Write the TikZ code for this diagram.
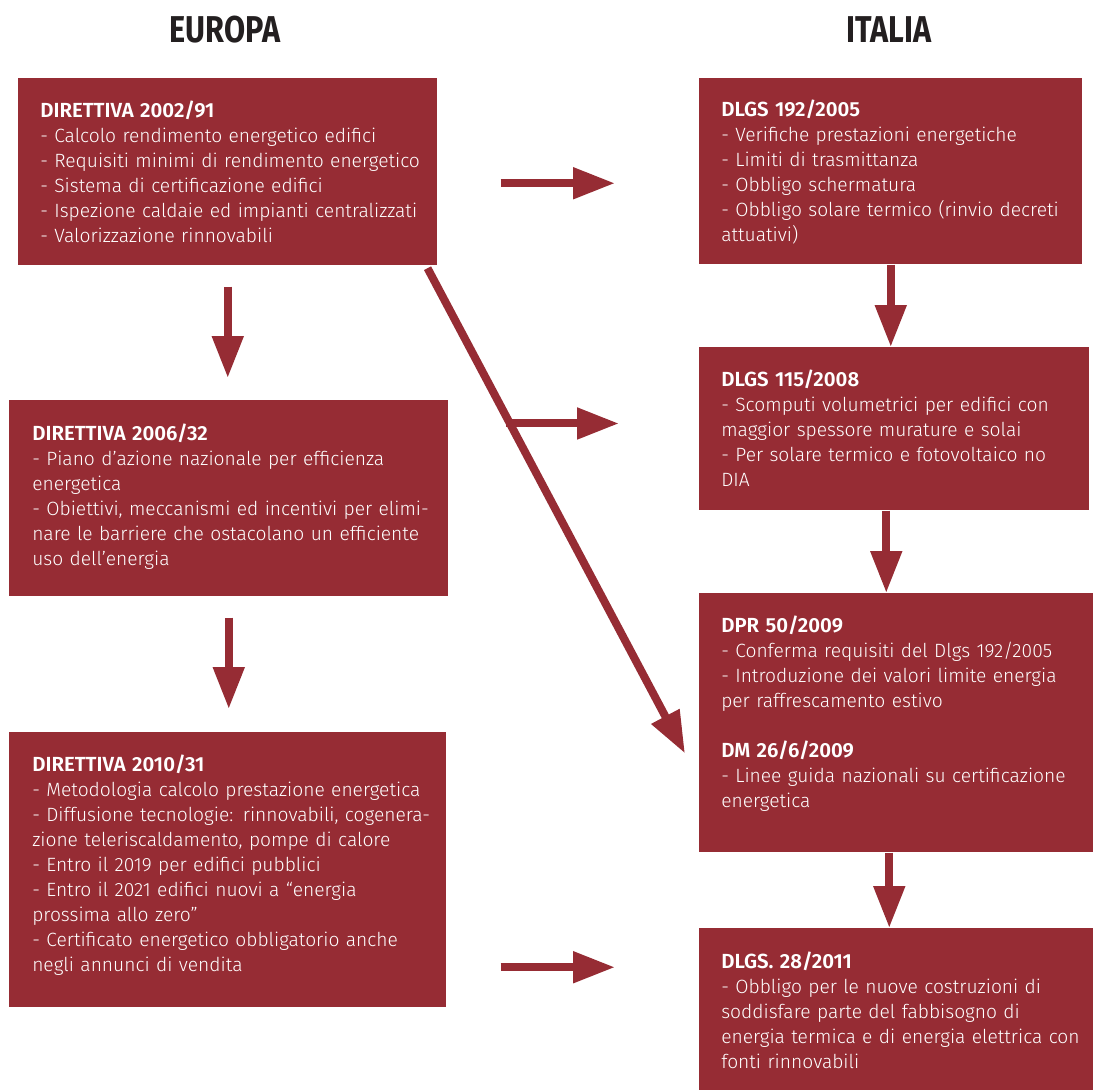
\documentclass[tikz,border=0pt]{standalone}
\usepackage{fontspec}
\setmainfont{Fira Sans}[UprightFont=* Light, BoldFont=* SemiBold]
\newfontfamily\headfont{Fira Sans}[FakeStretch=0.82]
\usetikzlibrary{positioning, arrows.meta}
\definecolor{boxred}{RGB}{150,44,52}
\definecolor{headgray}{RGB}{35,31,32}
\newcommand{\boxtitle}[1]{{\bfseries\fontsize{15.3pt}{18.75pt}\selectfont #1}}

\begin{document}
\begin{tikzpicture}[x=0.75pt, y=-0.75pt, box/.style={rectangle, fill=boxred, inner sep=0pt, anchor=north west}, txt/.style={text=white, inner sep=0pt, anchor=base west, text width=340pt, align=left, font=\fontsize{14.4pt}{18.75pt}\selectfont}, head/.style={text=headgray, font=\headfont\bfseries\fontsize{28pt}{28pt}\selectfont}, arrow/.style={draw=boxred, line width=6pt, -{Triangle[length=31.5pt, width=22.5pt]}}]
        \useasboundingbox (0,0) rectangle (1093,1090);

        \node [head] (europa) at (225,30) {EUROPA};
        \node [head] (italia) at (889,30) {ITALIA};

        % europa
        \node [box, minimum width=314.25pt, minimum height=140.25pt] (dir02) at (18,78) {};
        \node [box, minimum width=329.25pt, minimum height=147pt] (dir06) at (9,400) {};
        \node [box, minimum width=327.75pt, minimum height=206.25pt] (dir10) at (9,732) {};
        \node [txt] (dir02text) at ([shift={(22,39)}]dir02.north west) {\boxtitle{DIRETTIVA 2002/91}\\- Calcolo rendimento energetico edifici\\- Requisiti minimi di rendimento energetico\\- Sistema di certificazione edifici\\- Ispezione caldaie ed impianti centralizzati\\- Valorizzazione rinnovabili};
        \node [txt] (dir06text) at ([shift={(23,40)}]dir06.north west) {\boxtitle{DIRETTIVA 2006/32}\\- Piano d’azione nazionale per efficienza\\energetica\\- Obiettivi, meccanismi ed incentivi per elimi-\\nare le barriere che ostacolano un efficiente\\uso dell’energia};
        \node [txt] (dir10text) at ([shift={(23,39)}]dir10.north west) {\boxtitle{DIRETTIVA 2010/31}\\- Metodologia calcolo prestazione energetica\\- Diffusione tecnologie: rinnovabili, cogenera-\\zione teleriscaldamento, pompe di calore\\- Entro il 2019 per edifici pubblici\\- Entro il 2021 edifici nuovi a “energia\\prossima allo zero”\\- Certificato energetico obbligatorio anche\\negli annunci di vendita};

        % italia
        \node [box, minimum width=287.25pt, minimum height=139.5pt] (dlgs192) at (699,78) {};
        \node [box, minimum width=292.5pt, minimum height=122.25pt] (dlgs115) at (699,347) {};
        \node [box, minimum width=295.5pt, minimum height=194.25pt] (dpr50) at (699,593) {};
        \node [box, minimum width=295.5pt, minimum height=121.5pt] (dlgs28) at (699,928) {};
        \node [txt] (dlgs192text) at ([shift={(22,38)}]dlgs192.north west) {\boxtitle{DLGS 192/2005}\\- Verifiche prestazioni energetiche\\- Limiti di trasmittanza\\- Obbligo schermatura\\- Obbligo solare termico (rinvio decreti\\attuativi)};
        \node [txt] (dlgs115text) at ([shift={(22,39)}]dlgs115.north west) {\boxtitle{DLGS 115/2008}\\- Scomputi volumetrici per edifici con\\maggior spessore murature e solai\\- Per solare termico e fotovoltaico no\\DIA};
        \node [txt] (dpr50text) at ([shift={(22,39)}]dpr50.north west) {\boxtitle{DPR 50/2009}\\- Conferma requisiti del Dlgs 192/2005\\- Introduzione dei valori limite energia\\per raffrescamento estivo\\[18.75pt]\boxtitle{DM 26/6/2009}\\- Linee guida nazionali su certificazione\\energetica};
        \node [txt] (dlgs28text) at ([shift={(22,40)}]dlgs28.north west) {\boxtitle{DLGS. 28/2011}\\- Obbligo per le nuove costruzioni di\\soddisfare parte del fabbisogno di\\energia termica e di energia elettrica con\\fonti rinnovabili};

        \draw [arrow, shorten <=15.75pt, shorten >=16.5pt] (dir02.south) -- (dir02.south |- dir06.north);
        \draw [arrow, shorten <=15.75pt, shorten >=17.25pt] (dir06.south) -- (dir06.south |- dir10.north);
        \draw [arrow, shorten <=47.25pt, shorten >=63pt] ([yshift=-8.6pt]dir02.east) -- ([yshift=-8.6pt]dir02.east -| dlgs192.west);
        \draw [arrow] ([xshift=-7.5pt, yshift=-2pt]dir02.south east) -- coordinate[pos=0.32] (split) ([xshift=-10.5pt, yshift=-23pt]dpr50.west);
        \draw [arrow, shorten <=-3pt, shorten >=60pt] (split) -- (split -| dlgs115.west);
        \draw [arrow, shorten <=40.5pt, shorten >=63pt] ([yshift=-73.1pt]dir10.east) -- ([yshift=-73.1pt]dir10.east -| dlgs28.west);
        \draw [arrow] (dlgs192.south) -- (dlgs192.south |- dlgs115.north);
        \draw [arrow] ([xshift=-6pt]dlgs115.south) -- ([xshift=-6pt]dlgs115.south |- dpr50.north);
        \draw [arrow] ([xshift=-5.25pt]dpr50.south) -- ([xshift=-5.25pt]dpr50.south |- dlgs28.north);

    \end{tikzpicture}
\end{document}
